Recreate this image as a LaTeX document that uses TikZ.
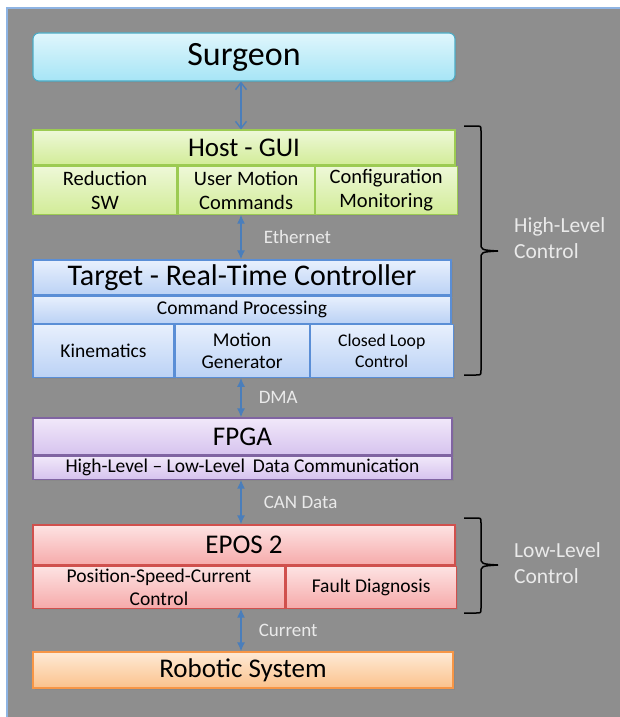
\documentclass[tikz,border=0pt]{standalone}
\usepackage{fontspec}
\setmainfont{Carlito}
\usetikzlibrary{positioning,shadows,arrows.meta}

\definecolor{panelgray}{HTML}{8E8E8E}
\definecolor{panelline}{HTML}{8EB4E3}
\definecolor{linkblue}{HTML}{4A7EBB}
\definecolor{lbltext}{HTML}{EAEAEA}
\definecolor{surgline}{HTML}{4BACC6}
\definecolor{surgtop}{HTML}{E0F6FC}
\definecolor{surgbot}{HTML}{A6E5F6}
\definecolor{hostline}{HTML}{9CCB52}
\definecolor{hosttop}{HTML}{EEF8D8}
\definecolor{hostbot}{HTML}{D2EC98}
\definecolor{tgtline}{HTML}{5A8ED6}
\definecolor{tgttop}{HTML}{E8F0FD}
\definecolor{tgtbot}{HTML}{BBD2F5}
\definecolor{fpgaline}{HTML}{8064A2}
\definecolor{fpgatop}{HTML}{F1E8FA}
\definecolor{fpgabot}{HTML}{D6C3EE}
\definecolor{eposline}{HTML}{D0504D}
\definecolor{apostop}{HTML}{FDE3E3}
\definecolor{eposbot}{HTML}{F6AAAA}
\definecolor{robline}{HTML}{F79646}
\definecolor{robtop}{HTML}{FEEAD6}
\definecolor{robbot}{HTML}{FBC28C}

\begin{document}
\begin{tikzpicture}[x=1pt, y=-1pt,
    blk/.style={draw, line width=1.1pt, inner sep=0pt, align=center,
        drop shadow={opacity=0.3, shadow xshift=1.5pt, shadow yshift=-1.5pt}},
    hdr/.style={font=\fontsize{27}{30}\selectfont},
    sub/.style={font=\fontsize{19.5}{22.5}\selectfont},
    surgbox/.style={blk, rounded corners=6pt, draw=surgline, top color=surgtop, bottom color=surgbot},
    hostbox/.style={blk, draw=hostline, top color=hosttop, bottom color=hostbot},
    tgtbox/.style={blk, draw=tgtline, top color=tgttop, bottom color=tgtbot},
    fpgabox/.style={blk, draw=fpgaline, top color=fpgatop, bottom color=fpgabot},
    eposbox/.style={blk, draw=eposline, top color=apostop, bottom color=eposbot},
    robbox/.style={blk, draw=robline, top color=robtop, bottom color=robbot},
    link/.style={draw=linkblue, line width=1.6pt, {Latex[length=9pt,width=8pt]}-{Latex[length=9pt,width=8pt]}},
    openlink/.style={draw=linkblue, line width=1.4pt, {Straight Barb[length=7pt,width=11pt]}-{Straight Barb[length=7pt,width=11pt]}},
    lbl/.style={text=lbltext, inner sep=0pt, anchor=west, font=\fontsize{19}{21}\selectfont},
    side/.style={text=lbltext, inner sep=0pt, anchor=west, align=left, font=\fontsize{21.5}{26}\selectfont},
    curly/.style={draw=black, line width=1.5pt}
]
\useasboundingbox (0,0) rectangle (620,717);
% grey panel
\fill[white] (0,0) rectangle (620,717);
\fill[panelgray] (7,8) rectangle (620,717);
\draw[panelline, line width=1.2pt] (7,717) -- (7,8) -- (620,8);

% surgeon
\node[surgbox, minimum width=422pt, minimum height=48pt, font=\fontsize{34}{36}\selectfont] (surgeon) at (244,57) {Surgeon};

% host - gui
\node[hostbox, hdr, minimum width=422pt, minimum height=35pt] (host) at (244,147.5) {Host - GUI};
\node[hostbox, font=\fontsize{20.5}{24}\selectfont, minimum width=144pt, minimum height=48pt, anchor=north west] (hostRed) at (host.south west) {Reduction\\SW};
\node[hostbox, font=\fontsize{20.5}{24}\selectfont, minimum width=136pt, minimum height=48pt, anchor=north west] (hostUser) at (hostRed.north east) {User Motion\\Commands};
\node[hostbox, font=\fontsize{20.5}{24}\selectfont, minimum width=142pt, minimum height=48pt, anchor=north west] (hostCfg) at (hostUser.north east) {Configuration\\Monitoring};

% target
\node[tgtbox, font=\fontsize{30}{32}\selectfont, minimum width=418pt, minimum height=35pt] (target) at (242,277.5) {Target - Real-Time Controller};
\node[tgtbox, sub, minimum width=418pt, minimum height=27pt, anchor=north] (cmdProc) at (target.south) {Command Processing};
\node[tgtbox, sub, minimum width=141pt, minimum height=53pt, anchor=north west] (kin) at (cmdProc.south west) {Kinematics};
\node[tgtbox, sub, minimum width=134pt, minimum height=53pt, anchor=north west] (motGen) at (kin.north east) {Motion\\Generator};
\node[tgtbox, font=\fontsize{17.7}{21.5}\selectfont, minimum width=143pt, minimum height=53pt, anchor=north west] (clCtl) at (motGen.north east) {Closed Loop\\Control};

% fpga
\node[fpgabox, hdr, minimum width=419pt, minimum height=37pt] (fpga) at (242.5,436.5) {FPGA};
\node[fpgabox, sub, minimum width=419pt, minimum height=23pt, anchor=north] (fpgaCom) at (fpga.south) {High-Level -- Low-Level\, Data Communication};

% epos
\node[eposbox, hdr, minimum width=422pt, minimum height=40pt] (epos) at (244,545) {EPOS 2};
\node[eposbox, sub, minimum width=252pt, minimum height=42pt, anchor=north west] (posCtl) at (epos.south west) {Position-Speed-Current\\Control};
\node[eposbox, sub, minimum width=170pt, minimum height=42pt, anchor=north west] (fault) at (posCtl.north east) {Fault Diagnosis};

% robot
\node[robbox, hdr, minimum width=420pt, minimum height=36pt] (robot) at (243,670) {Robotic System};

% links
\draw[openlink] (surgeon.south -| 241,0) -- (host.north -| 241,0);
\draw[link] (hostUser.south -| 241,0) -- node[lbl, xshift=22pt] (ethLbl) {Ethernet} (target.north -| 241,0);
\draw[link] (motGen.south -| 241,0) -- node[lbl, xshift=17pt] (dmaLbl) {DMA} (fpga.north -| 241,0);
\draw[link] (fpgaCom.south -| 241,0) -- node[lbl, xshift=22pt] (canLbl) {CAN Data} (epos.north -| 241,0);
\draw[link] (posCtl.south -| 241,0) -- node[lbl, xshift=17pt] (curLbl) {Current} (robot.north -| 241,0);

% braces
\coordinate (hiTop) at (464,126);
\coordinate (hiTip) at (498,251);
\coordinate (hiBot) at (464,375);
\coordinate (loTop) at (464,518);
\coordinate (loTip) at (498,565);
\coordinate (loBot) at (464,613);
\draw[curly] (hiTop) -- (476,126) .. controls (481,126) .. (481,131) -- (481,243)
    .. controls (481,250) .. (hiTip) .. controls (481,252) .. (481,259) -- (481,370)
    .. controls (481,375) .. (476,375) -- (hiBot);
\draw[curly] (loTop) -- (476,518) .. controls (481,518) .. (481,523) -- (481,557)
    .. controls (481,564) .. (loTip) .. controls (481,566) .. (481,573) -- (481,608)
    .. controls (481,613) .. (476,613) -- (loBot);
\node[side] (hiLbl) at (514,238) {High-Level\\Control};
\node[side] (loLbl) at (514,563) {Low-Level\\Control};
\end{tikzpicture}
\end{document}
